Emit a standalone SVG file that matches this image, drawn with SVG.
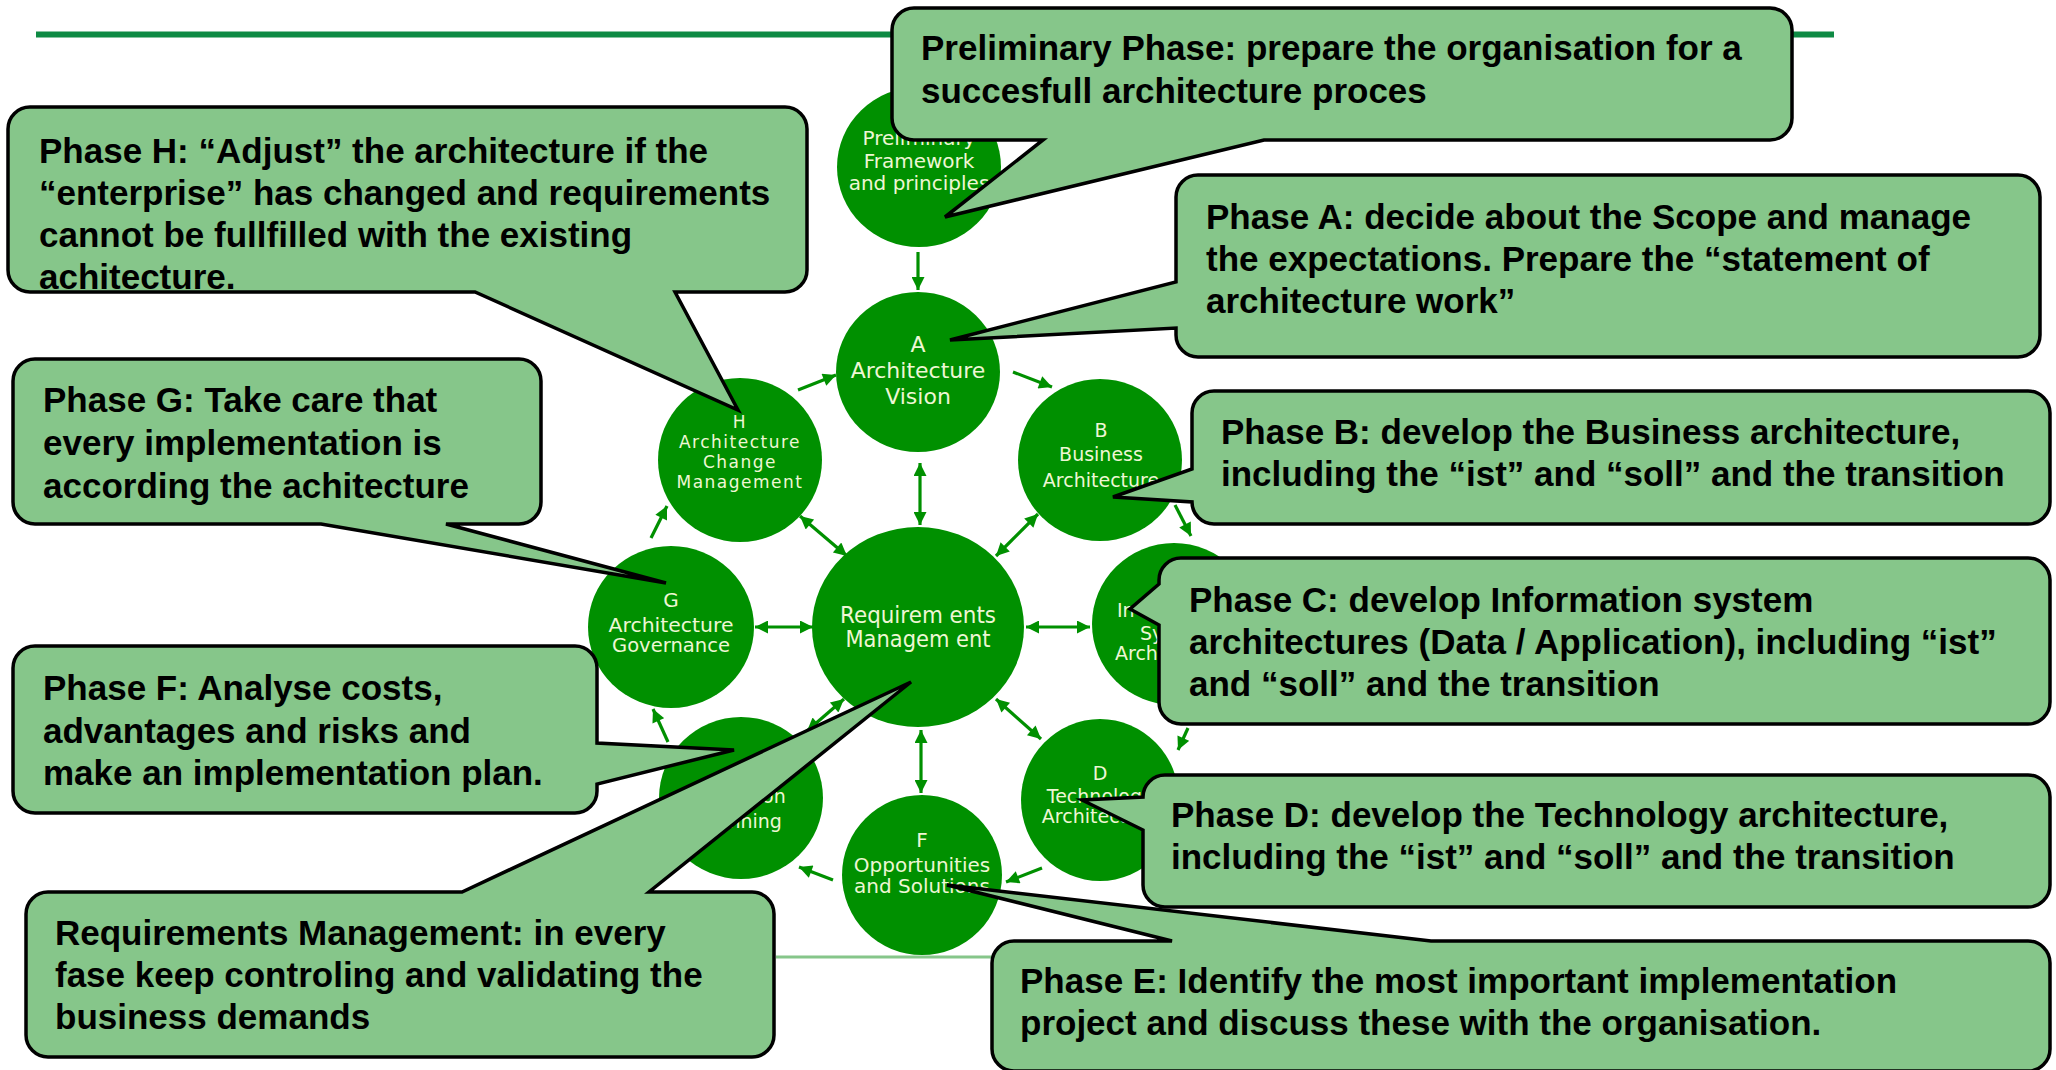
<svg xmlns="http://www.w3.org/2000/svg" width="2056" height="1070" viewBox="0 0 2056 1070">
<style>
.bg{fill:#ffffff}
.node{fill:#009000}
.lbl{font-family:"DejaVu Sans","Liberation Sans",sans-serif;fill:#eef7d4;text-anchor:middle}
.lbs{font-family:"DejaVu Sans","Liberation Sans",sans-serif;fill:#eef7d4;text-anchor:start}
.call{fill:#86c68a;stroke:#000000;stroke-width:3.5;stroke-linejoin:miter}
.ct{font-family:"Liberation Sans",Arial,sans-serif;font-weight:bold;font-size:35px;fill:#000000}
.conn{stroke:#009000;stroke-width:3.2;fill:none}
</style>
<defs>
<marker id="ah" viewBox="0 0 10 10" refX="10" refY="5" markerWidth="15" markerHeight="13" markerUnits="userSpaceOnUse" orient="auto-start-reverse">
<path d="M0,0 L10,5 L0,10 z" fill="#009000"/>
</marker>
</defs>
<rect class="bg" x="0" y="0" width="2056" height="1070"/>
<line x1="36" y1="34.5" x2="1834" y2="34.5" stroke="#0e8a44" stroke-width="6"/>
<line x1="776" y1="957" x2="1000" y2="957" stroke="#86c68a" stroke-width="3"/>

<g id="connectors">
<line class="conn" x1="918" y1="252" x2="918" y2="290" marker-end="url(#ah)"/>
<line class="conn" x1="1013" y1="372" x2="1052" y2="387" marker-end="url(#ah)"/>
<line class="conn" x1="1175" y1="505" x2="1191" y2="536" marker-end="url(#ah)"/>
<line class="conn" x1="1188" y1="728" x2="1178" y2="750" marker-end="url(#ah)"/>
<line class="conn" x1="1042" y1="868" x2="1006" y2="882" marker-end="url(#ah)"/>
<line class="conn" x1="833" y1="880" x2="799" y2="867" marker-end="url(#ah)"/>
<line class="conn" x1="668" y1="742" x2="653" y2="709" marker-end="url(#ah)"/>
<line class="conn" x1="651" y1="538" x2="667" y2="506" marker-end="url(#ah)"/>
<line class="conn" x1="798" y1="390" x2="836" y2="375" marker-end="url(#ah)"/>
<line class="conn" x1="920" y1="463" x2="920" y2="525" marker-start="url(#ah)" marker-end="url(#ah)"/>
<line class="conn" x1="1038" y1="514" x2="996" y2="556" marker-start="url(#ah)" marker-end="url(#ah)"/>
<line class="conn" x1="1026" y1="627" x2="1090" y2="627" marker-start="url(#ah)" marker-end="url(#ah)"/>
<line class="conn" x1="996" y1="699" x2="1041" y2="739" marker-start="url(#ah)" marker-end="url(#ah)"/>
<line class="conn" x1="921" y1="730" x2="921" y2="793" marker-start="url(#ah)" marker-end="url(#ah)"/>
<line class="conn" x1="844" y1="699" x2="807" y2="731" marker-start="url(#ah)" marker-end="url(#ah)"/>
<line class="conn" x1="755" y1="627" x2="813" y2="627" marker-start="url(#ah)" marker-end="url(#ah)"/>
<line class="conn" x1="800" y1="516" x2="847" y2="556" marker-start="url(#ah)" marker-end="url(#ah)"/>
</g>

<g id="node-prelim">
<ellipse class="node" cx="919" cy="167" rx="82" ry="80"/>
<text class="lbl" font-size="20" x="919" y="145">Preliminary</text>
<text class="lbl" font-size="20" x="919" y="168">Framework</text>
<text class="lbl" font-size="20" x="919" y="190">and principles</text>
</g>
<g id="node-a">
<ellipse class="node" cx="918" cy="372" rx="82" ry="80"/>
<text class="lbl" font-size="22" x="918" y="352">A</text>
<text class="lbl" font-size="22" x="918" y="378">Architecture</text>
<text class="lbl" font-size="22" x="918" y="404">Vision</text>
</g>
<g id="node-b">
<ellipse class="node" cx="1100" cy="460" rx="82" ry="81"/>
<text class="lbl" font-size="19" x="1101" y="437">B</text>
<text class="lbl" font-size="19" x="1101" y="461">Business</text>
<text class="lbl" font-size="19" x="1101" y="487">Architecture</text>
</g>
<g id="node-c">
<ellipse class="node" cx="1174" cy="624" rx="82" ry="81"/>
<text class="lbs" font-size="19" x="1117" y="617">In</text>
<text class="lbs" font-size="19" x="1140" y="640">Sy</text>
<text class="lbs" font-size="19" x="1115" y="660">Arch</text>
</g>
<g id="node-d">
<ellipse class="node" cx="1100" cy="800" rx="79" ry="81"/>
<text class="lbl" font-size="19" x="1100" y="780">D</text>
<text class="lbl" font-size="19" x="1100" y="803">Technology</text>
<text class="lbl" font-size="19" x="1100" y="823">Architecture</text>
</g>
<g id="node-f">
<ellipse class="node" cx="922" cy="875" rx="80" ry="80"/>
<text class="lbl" font-size="20" x="922" y="847">F</text>
<text class="lbl" font-size="20" x="922" y="872">Opportunities</text>
<text class="lbl" font-size="20" x="922" y="893">and Solutions</text>
</g>
<g id="node-e">
<ellipse class="node" cx="741" cy="798" rx="82" ry="81"/>
<text class="lbl" font-size="19" x="741" y="780">E</text>
<text class="lbl" font-size="19" x="741" y="803">Migration</text>
<text class="lbl" font-size="19" x="741" y="828">Planning</text>
</g>
<g id="node-g">
<ellipse class="node" cx="671" cy="627" rx="83" ry="81"/>
<text class="lbl" font-size="20" x="671" y="607">G</text>
<text class="lbl" font-size="20" x="671" y="632" textLength="125" lengthAdjust="spacingAndGlyphs">Architecture</text>
<text class="lbl" font-size="20" x="671" y="652" textLength="118" lengthAdjust="spacingAndGlyphs">Governance</text>
</g>
<g id="node-h">
<ellipse class="node" cx="740" cy="460" rx="82" ry="82"/>
<text class="lbl" font-size="17" letter-spacing="1.5" x="740" y="428">H</text>
<text class="lbl" font-size="17" letter-spacing="1.5" x="740" y="448">Architecture</text>
<text class="lbl" font-size="17" letter-spacing="1.5" x="740" y="468">Change</text>
<text class="lbl" font-size="17" letter-spacing="1.5" x="740" y="488">Management</text>
</g>
<g id="node-req">
<ellipse class="node" cx="918" cy="627" rx="106" ry="100"/>
<text class="lbl" font-size="23" x="918" y="623" textLength="156" lengthAdjust="spacingAndGlyphs">Requirem ents</text>
<text class="lbl" font-size="23" x="918" y="647" textLength="145" lengthAdjust="spacingAndGlyphs">Managem ent</text>
</g>

<g id="callout-prelim">
<path class="call" d="M914,8 H1770 A22 22 0 0 1 1792,30 V118 A22 22 0 0 1 1770,140 H1264 L945,217 L1043,140 H914 A22 22 0 0 1 892,118 V30 A22 22 0 0 1 914,8 Z"/>
<text class="ct" x="921" y="60">Preliminary Phase: prepare the organisation for a</text>
<text class="ct" x="921" y="103">succesfull architecture proces</text>
</g>
<g id="callout-h">
<path class="call" d="M30,107 H785 A22 22 0 0 1 807,129 V270 A22 22 0 0 1 785,292 H675 L738,410 L475,292 H30 A22 22 0 0 1 8,270 V129 A22 22 0 0 1 30,107 Z"/>
<text class="ct" x="39" y="163">Phase H: “Adjust” the architecture if the</text>
<text class="ct" x="39" y="205">“enterprise” has changed and requirements</text>
<text class="ct" x="39" y="247">cannot be fullfilled with the existing</text>
<text class="ct" x="39" y="289">achitecture.</text>
</g>
<g id="callout-g">
<path class="call" d="M35,359 H519 A22 22 0 0 1 541,381 V502 A22 22 0 0 1 519,524 H446 L666,583 L321,524 H35 A22 22 0 0 1 13,502 V381 A22 22 0 0 1 35,359 Z"/>
<text class="ct" x="43" y="412">Phase G: Take care that</text>
<text class="ct" x="43" y="455">every implementation is</text>
<text class="ct" x="43" y="498">according the achitecture</text>
</g>
<g id="callout-f">
<path class="call" d="M35,646 H575 A22 22 0 0 1 597,668 V743 L734,750 L597,784 V791 A22 22 0 0 1 575,813 H35 A22 22 0 0 1 13,791 V668 A22 22 0 0 1 35,646 Z"/>
<text class="ct" x="43" y="700">Phase F: Analyse costs,</text>
<text class="ct" x="43" y="743">advantages and risks and</text>
<text class="ct" x="43" y="785">make an implementation plan.</text>
</g>
<g id="callout-req">
<path class="call" d="M48,892 H462 L911,682 L649,892 H752 A22 22 0 0 1 774,914 V1035 A22 22 0 0 1 752,1057 H48 A22 22 0 0 1 26,1035 V914 A22 22 0 0 1 48,892 Z"/>
<text class="ct" x="55" y="945">Requirements Management: in every</text>
<text class="ct" x="55" y="987">fase keep controling and validating the</text>
<text class="ct" x="55" y="1029">business demands</text>
</g>
<g id="callout-a">
<path class="call" d="M1198,175 H2018 A22 22 0 0 1 2040,197 V335 A22 22 0 0 1 2018,357 H1198 A22 22 0 0 1 1176,335 V328 L950,340 L1176,282 V197 A22 22 0 0 1 1198,175 Z"/>
<text class="ct" x="1206" y="229">Phase A: decide about the Scope and manage</text>
<text class="ct" x="1206" y="271">the expectations. Prepare the “statement of</text>
<text class="ct" x="1206" y="313">architecture work”</text>
</g>
<g id="callout-b">
<path class="call" d="M1214,391 H2028 A22 22 0 0 1 2050,413 V502 A22 22 0 0 1 2028,524 H1214 A22 22 0 0 1 1192,502 L1113,497 L1192,469 V413 A22 22 0 0 1 1214,391 Z"/>
<text class="ct" x="1221" y="444">Phase B: develop the Business architecture,</text>
<text class="ct" x="1221" y="486">including the “ist” and “soll” and the transition</text>
</g>
<g id="callout-c">
<path class="call" d="M1181,558 H2028 A22 22 0 0 1 2050,580 V702 A22 22 0 0 1 2028,724 H1181 A22 22 0 0 1 1159,702 V625 L1130,609 L1159,584 V580 A22 22 0 0 1 1181,558 Z"/>
<text class="ct" x="1189" y="612">Phase C: develop Information system</text>
<text class="ct" x="1189" y="654">architectures (Data / Application), including “ist”</text>
<text class="ct" x="1189" y="696">and “soll” and the transition</text>
</g>
<g id="callout-d">
<path class="call" d="M1165,775 H2028 A22 22 0 0 1 2050,797 V885 A22 22 0 0 1 2028,907 H1165 A22 22 0 0 1 1143,885 V830 L1082,800 L1143,797 A22 22 0 0 1 1165,775 Z"/>
<text class="ct" x="1171" y="827">Phase D: develop the Technology architecture,</text>
<text class="ct" x="1171" y="869">including the “ist” and “soll” and the transition</text>
</g>
<g id="callout-e">
<path class="call" d="M1014,941 H1172 L947,885 L1431,941 H2028 A22 22 0 0 1 2050,963 V1049 A22 22 0 0 1 2028,1071 H1014 A22 22 0 0 1 992,1049 V963 A22 22 0 0 1 1014,941 Z"/>
<text class="ct" x="1020" y="993">Phase E: Identify the most important implementation</text>
<text class="ct" x="1020" y="1035">project and discuss these with the organisation.</text>
</g>
</svg>
